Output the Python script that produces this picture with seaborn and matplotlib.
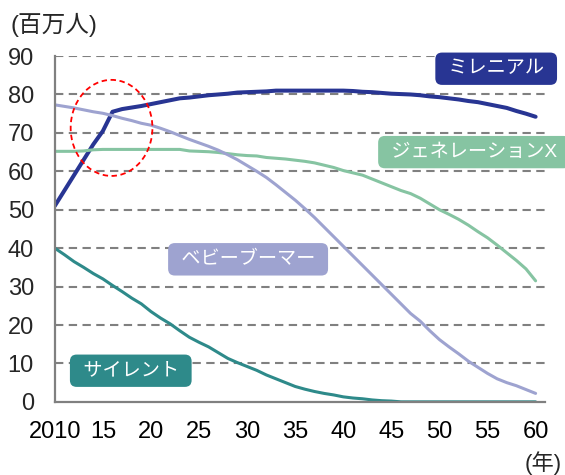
import numpy as np
import pandas as pd
import matplotlib.pyplot as plt
import seaborn as sns
from matplotlib.patches import Ellipse

# data (百万人)
years = list(range(2010, 2061))

millennial = [51.0, 55.0, 59.0, 63.0, 67.0, 70.5, 75.5, 76.2, 76.6, 77.0,
              77.5, 78.0, 78.5, 79.0, 79.2, 79.5, 79.8, 80.0, 80.2, 80.5,
              80.6, 80.7, 80.8, 81.0, 81.0, 81.0, 81.0, 81.0, 81.0, 81.0,
              81.0, 80.9, 80.7, 80.6, 80.4, 80.2, 80.1, 80.0, 79.8, 79.5,
              79.3, 79.0, 78.7, 78.3, 78.0, 77.5, 77.0, 76.5, 75.7, 75.0,
              74.2]

gen_x = [65.2, 65.2, 65.2, 65.3, 65.6, 65.7, 65.7, 65.7, 65.7, 65.7,
         65.7, 65.7, 65.7, 65.7, 65.3, 65.2, 65.1, 64.9, 64.6, 64.3,
         64.1, 64.0, 63.6, 63.4, 63.2, 62.9, 62.6, 62.2, 61.6, 61.0,
         60.2, 59.6, 59.0, 58.0, 57.0, 56.0, 55.0, 54.2, 53.0, 51.5,
         50.0, 48.8, 47.5, 46.0, 44.3, 42.7, 40.8, 38.8, 36.8, 34.6,
         31.5]

boomer = [77.3, 76.9, 76.5, 76.0, 75.5, 75.1, 74.5, 73.8, 73.2, 72.5,
          72.0, 71.2, 70.3, 69.3, 68.3, 67.4, 66.5, 65.5, 64.3, 63.0,
          61.5, 60.0, 58.4, 56.5, 54.5, 52.5, 50.3, 48.0, 45.5, 43.0,
          40.5, 38.0, 35.5, 33.0, 30.5, 28.0, 25.5, 23.0, 21.0, 18.5,
          16.2, 14.3, 12.5, 10.6, 9.0, 7.4, 6.0, 5.0, 4.2, 3.2,
          2.2]

silent = [40.0, 38.3, 36.5, 35.0, 33.4, 32.0, 30.3, 28.7, 27.0, 25.5,
          23.5, 21.8, 20.3, 18.5, 16.8, 15.5, 14.3, 12.8, 11.3, 10.2,
          9.2, 8.2, 7.0, 6.0, 5.0, 4.0, 3.3, 2.7, 2.2, 1.8,
          1.3, 1.0, 0.8, 0.5, 0.3, 0.2, 0.0, 0.0, 0.0, 0.0,
          0.0, 0.0, 0.0, 0.0, 0.0, 0.0, 0.0, 0.0, 0.0, 0.0,
          0.0]

gen_names = ["ミレニアル", "ジェネレーションX", "ベビーブーマー", "サイレント"]
gen_colors = ["#283593", "#86C4A2", "#9EA3D0", "#2E8A8A"]
tick_years = list(range(2010, 2061, 5))
tick_labels = ["2010", "15", "20", "25", "30", "35", "40", "45", "50", "55", "60"]

df = pd.DataFrame({
    "year": years * 4,
    "value": millennial + gen_x + boomer + silent,
    "gen": sum([[g] * len(years) for g in gen_names], []),
})

sns.set_style("white")
plt.rcParams["font.family"] = ["Liberation Sans", "Noto Sans CJK JP", "DejaVu Sans"]

fig = plt.figure(figsize=(5.65, 4.75), dpi=100)
ax = fig.add_axes([0.097, 0.154, 0.868, 0.728])

# dashed grid first so the lines sit on top
for yv in range(10, 100, 10):
    ax.axhline(yv, color="#808080", lw=1.5, ls=(0, (4, 2.6)), zorder=0)

sns.lineplot(data=df, x="year", y="value", hue="gen", hue_order=gen_names,
             palette=dict(zip(gen_names, gen_colors)), legend=False, ax=ax,
             linewidth=2.2)
ax.lines[-4].set_linewidth(2.9)  # millennial is drawn heavier

ax.set_xlim(2010, 2061)
ax.set_ylim(0, 90)
ax.set_yticks(range(0, 100, 10))
ax.set_xticks(tick_years)
ax.set_xticklabels(tick_labels)
ax.set_xlabel("")
ax.set_ylabel("")
ax.tick_params(axis="x", direction="in", length=5, width=1.3, colors="#808080",
               labelcolor="black", labelsize=17, pad=14)
ax.tick_params(axis="y", length=0, labelsize=17, pad=15)

for s in ["top", "right"]:
    ax.spines[s].set_visible(False)
for s in ["left", "bottom"]:
    ax.spines[s].set_color("#808080")
    ax.spines[s].set_linewidth(1.6)

fig.text(0.018, 0.948, "(百万人)", fontsize=17, ha="left", va="center")
fig.text(0.962, 0.025, "(年)", fontsize=16, ha="center", va="center")

# generation labels in rounded boxes
label_pos = [(2055.9, 86.7), (2053.6, 65.0), (2030.1, 37.1), (2017.9, 8.1)]
for name, col, (lx, ly) in zip(gen_names, gen_colors, label_pos):
    ax.text(lx, ly, " " + name + " ", color="white", fontsize=13.8,
            ha="center", va="center", clip_on=False, zorder=5,
            bbox=dict(boxstyle="round,pad=0.4,rounding_size=0.35",
                      fc=col, ec="none"))

# red dashed circle around the crossing point
ell = Ellipse((2015.9, 71.3), width=8.5, height=25, fill=False,
              ec="red", lw=1.3, ls=(0, (3, 2)), zorder=6)
ax.add_patch(ell)

fig.savefig("out.png", dpi=100)
